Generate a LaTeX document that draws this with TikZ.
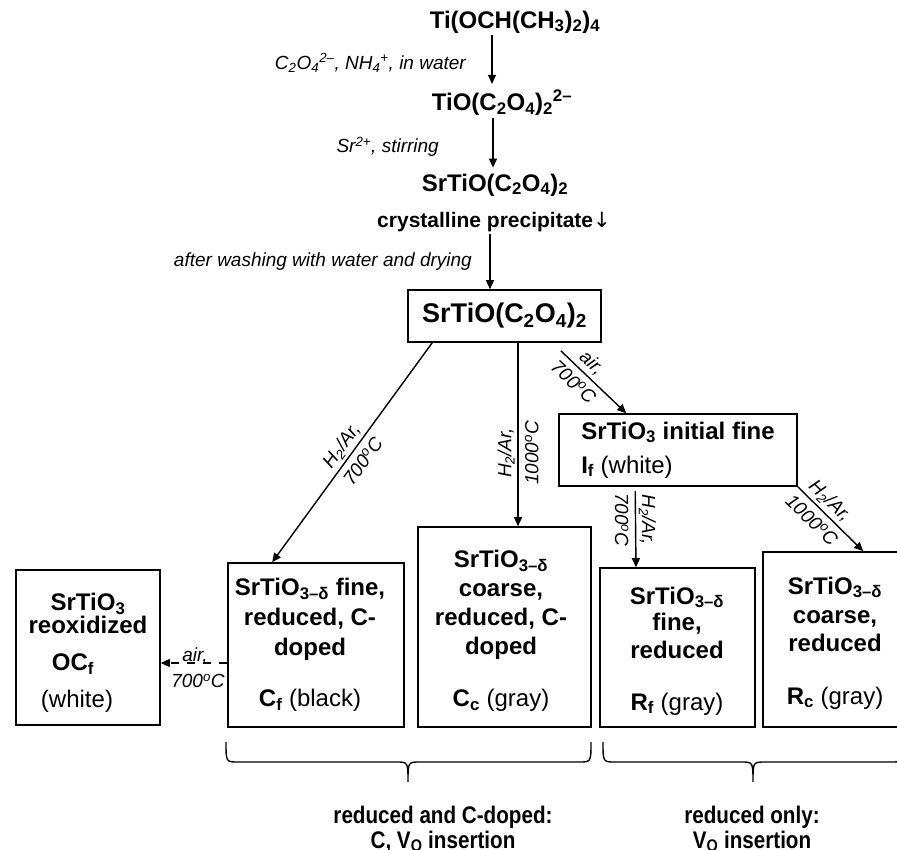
\documentclass[tikz,border=0pt]{standalone}
\usepackage{fontspec}
\setmainfont{Liberation Sans}
\newfontfamily\arrowfont{DejaVu Sans}
\newfontfamily\narrowsans[FakeStretch=0.86]{Liberation Sans}
\usetikzlibrary{arrows.meta}
\newcommand{\sbs}[1]{\textsubscript{#1}}
\newcommand{\sps}[1]{\textsuperscript{#1}}
\newcommand{\dgC}{\textsuperscript{o}C}
\begin{document}
\begin{tikzpicture}[x=1pt,y=-1pt,
  box/.style={draw, line width=1.6pt, inner sep=0pt},
  conn/.style={line width=1.4pt, -{Triangle[length=9pt,width=8pt]}},
  lbl/.style={font=\fontsize{19}{25}\selectfont\itshape, align=center, inner sep=0pt},
  dlbl/.style={font=\fontsize{19}{27}\selectfont\itshape, align=center, inner sep=0pt},
  chem/.style={font=\fontsize{24}{29}\selectfont\bfseries, inner sep=2pt},
  btxt/.style={font=\fontsize{24}{29}\selectfont\bfseries, align=center, inner sep=0pt},
  bottxt/.style={font=\narrowsans\fontsize{24}{25}\selectfont\bfseries, align=center, inner sep=0pt},
  bracel/.style={line width=1.4pt}]
\useasboundingbox (0,0) rectangle (897,850);

% top chain
\node[chem] (ti) at (515,22) {Ti(OCH(CH\sbs{3})\sbs{2})\sbs{4}};
\node[chem] (tiox) at (502,103) {TiO(C\sbs{2}O\sbs{4})\sbs{2}\sps{2–}};
\node[chem] (srox) at (495,185) {SrTiO(C\sbs{2}O\sbs{4})\sbs{2}};
\node[chem, font=\fontsize{21}{25}\selectfont\bfseries] (cryst) at (494,222) {crystalline precipitate{\arrowfont\mdseries ↓}};

\node[lbl, anchor=east] (l1) at (466,63) {C\sbs{2}O\sbs{4}\sps{2–}, NH\sbs{4}\sps{+}, in water};
\node[lbl, anchor=east] (l2) at (439,147) {Sr\sps{2+}, stirring};
\node[lbl, anchor=east] (l3) at (472,262) {after washing with water and drying};

\node[box, minimum width=193pt, minimum height=52pt, font=\fontsize{27}{32}\selectfont\bfseries] (mainbox) at (504.5,316) {SrTiO(C\sbs{2}O\sbs{4})\sbs{2}};

\draw[conn] ([xshift=-23pt]ti.south) -- ([xshift=-10pt,yshift=4pt]tiox.north);
\draw[conn] ([xshift=-9pt]tiox.south) -- ([xshift=-2pt,yshift=4pt]srox.north);
\draw[conn] ([xshift=-4pt]cryst.south) -- ([xshift=-14.5pt]mainbox.north);

% If box
\node[box, minimum width=238pt, minimum height=72pt, btxt, align=left] (if) at (678,450)
  {SrTiO\sbs{3} initial fine\\[5pt]I\sbs{f} {\mdseries (white)}};

% bottom boxes
\node[box, minimum width=144pt, minimum height=155pt] (ocf) at (88,647.5) {};
\node[box, minimum width=176pt, minimum height=164pt] (cf) at (316,645) {};
\node[box, minimum width=173pt, minimum height=200pt] (cc) at (504.5,627) {};
\node[box, minimum width=155pt, minimum height=159pt] (rf) at (677.5,647.5) {};
\node[box, minimum width=144pt, minimum height=175pt] (rc) at (835,639.5) {};

\node[btxt] (ocft) at (88,653) {SrTiO\sbs{3}\\[-6pt]reoxidized\\[8pt]OC\sbs{f}\kern30pt\\[8pt]{\mdseries (white)}\kern22pt};
\node[btxt] (cft) at (310,645) {SrTiO\sbs{3–δ} fine,\\[1pt]reduced, C-\\[1pt]doped\\[22pt]C\sbs{f} {\mdseries (black)}};
\node[btxt] (cct) at (501,631) {SrTiO\sbs{3–δ}\\[0pt]coarse,\\[0pt]reduced, C-\\[0pt]doped\\[23pt]C\sbs{c} {\mdseries (gray)}};
\node[btxt] (rft) at (677,651) {SrTiO\sbs{3–δ}\\[-3pt]fine,\\[-1pt]reduced\\[23pt]R\sbs{f} {\mdseries (gray)}};
\node[btxt] (rct) at (835,643) {SrTiO\sbs{3–δ}\\[0pt]coarse,\\[-1pt]reduced\\[24pt]R\sbs{c} {\mdseries (gray)}};

% connectors from main box
\draw[conn] ([xshift=25pt]mainbox.south west) -- node[dlbl, pos=0.51, rotate=54, xshift=2pt] {H\sbs{2}/Ar,\\700\dgC} ([xshift=45pt]cf.north west);
\draw[conn] ([xshift=13.5pt]mainbox.south) -- node[dlbl, pos=0.6, rotate=90] {H\sbs{2}/Ar,\\1000\dgC} ([xshift=13.5pt]cc.north);
\draw[conn] ([xshift=-41pt,yshift=-8pt]mainbox.south east) -- node[dlbl, pos=0.34, rotate=-43] {air,\\700\dgC} ([xshift=68pt]if.north west);
\draw[conn] ([xshift=77pt,yshift=-4pt]if.south west) -- node[dlbl, pos=0.38, rotate=-90] {H\sbs{2}/Ar,\\700\dgC} ([xshift=-41.5pt]rf.north);
\draw[conn] (if.south east) -- node[dlbl, pos=0.36, rotate=-44] {H\sbs{2}/Ar,\\1000\dgC} ([xshift=101pt]rc.north west);

% dashed reoxidation
\draw[conn, dash pattern=on 8pt off 8pt] ([yshift=-18pt]cf.west) -- ([yshift=-15.5pt]ocf.east);
\node[lbl, anchor=base] (airlbl) at (195,661) {air,};
\node[lbl] (tlbl) at (198,681) {700\dgC};

% braces
\coordinate (b1a) at (226,742);
\coordinate (b1t) at (408,782);
\coordinate (b1b) at (591,742);
\draw[bracel] (b1a) .. controls (226,762) and (226,762) .. (238,762) -- (396,762)
  .. controls (408,762) and (408,762) .. (b1t)
  .. controls (408,762) and (408,762) .. (420,762) -- (579,762)
  .. controls (591,762) and (591,762) .. (b1b);
\coordinate (b2a) at (603,742);
\coordinate (b2t) at (753,782);
\coordinate (b2b) at (903,742);
\draw[bracel] (b2a) .. controls (603,762) and (603,762) .. (615,762) -- (741,762)
  .. controls (753,762) and (753,762) .. (b2t)
  .. controls (753,762) and (753,762) .. (765,762) -- (891,762)
  .. controls (903,762) and (903,762) .. (b2b);

\node[bottxt] (sum1) at (443,829) {reduced and C-doped:\\C, V\sbs{O} insertion};
\node[bottxt] (sum2) at (752,829) {reduced only:\\V\sbs{O} insertion};
\end{tikzpicture}
\end{document}
